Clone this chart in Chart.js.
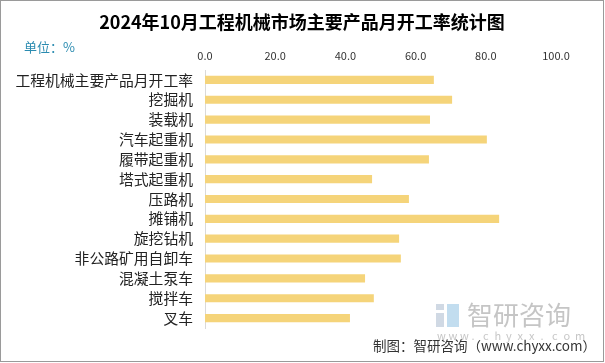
<!DOCTYPE html>
<html>
<head>
<meta charset="utf-8">
<script src="https://cdn.jsdelivr.net/npm/chart.js@4/dist/chart.umd.min.js"></script>
<style>
  body { margin: 0; background: #fff; }
  #wrap { width: 605px; height: 363px; }
</style>
</head>
<body>
<div id="wrap"><canvas id="rateChart" width="605" height="363"></canvas></div>
<script>
let chartTitle = '2024年10月工程机械市场主要产品月开工率统计图';
let unitText = '单位：%';
let sourceText = '制图：智研咨询（www.chyxx.com）';

let categories = ['工程机械主要产品月开工率', '挖掘机', '装载机', '汽车起重机', '履带起重机', '塔式起重机',
  '压路机', '摊铺机', '旋挖钻机', '非公路矿用自卸车', '混凝土泵车', '搅拌车', '叉车'];
let rates = [65.2, 70.4, 64.1, 80.3, 63.8, 47.6, 58.1, 83.8, 55.3, 55.8, 45.6, 48.1, 41.3];
let tickValues = [0, 20, 40, 60, 80, 100];

let fontCn = '"Noto Sans CJK SC", "Noto Sans", sans-serif';

// background, frame, title, unit and footer text
let decorPlugin = {
  id: 'decor',
  beforeDraw(chart) {
    let ctx = chart.ctx;
    ctx.save();
    ctx.fillStyle = '#fff';
    ctx.fillRect(0, 0, chart.width, chart.height);
    ctx.restore();
  },
  afterDraw(chart) {
    let ctx = chart.ctx;
    ctx.save();
    ctx.strokeStyle = '#9a9a9a';
    ctx.lineWidth = 1;
    ctx.strokeRect(0.5, 0.5, chart.width - 2, chart.height - 2);

    ctx.fillStyle = '#000';
    ctx.font = 'bold 18px ' + fontCn;
    ctx.textAlign = 'center';
    ctx.textBaseline = 'middle';
    ctx.fillText(chartTitle, 302, 22);

    ctx.fillStyle = '#2a8bb0';
    ctx.font = '13px ' + fontCn;
    ctx.textAlign = 'left';
    ctx.fillText(unitText, 24, 47);

    // watermark
    ctx.fillStyle = 'rgba(150,170,195,0.45)';
    ctx.fillRect(436, 304, 8, 6);
    ctx.fillRect(436, 313, 8, 14);
    ctx.fillStyle = 'rgba(120,180,220,0.45)';
    ctx.fillRect(447, 304, 12, 23);
    ctx.fillStyle = 'rgba(150,150,150,0.55)';
    ctx.font = '26px ' + fontCn;
    ctx.fillText('智研咨询', 467, 315);
    ctx.font = '11px ' + fontCn;
    ctx.fillStyle = 'rgba(160,160,160,0.6)';
    let wm = 'www.chyxx.com';
    for (let i = 0; i < wm.length; i++) {
      ctx.fillText(wm[i], 437 + i * 11.5, 336);
    }

    ctx.fillStyle = '#333';
    ctx.font = '13.5px ' + fontCn;
    ctx.textAlign = 'right';
    ctx.fillText(sourceText, 596, 346);
    ctx.restore();
  }
};

function createRateChart() {
  let ctx = document.getElementById('rateChart').getContext('2d');
  new Chart(ctx, {
    type: 'bar',
    data: {
      labels: categories,
      datasets: [{
        data: rates,
        backgroundColor: '#f5d47a',
        categoryPercentage: 1,
        barPercentage: 0.41
      }]
    },
    options: {
      indexAxis: 'y',
      responsive: false,
      animation: false,
      layout: { padding: { left: 15, right: 49, top: 48, bottom: 35 } },
      plugins: {
        legend: { display: false },
        tooltip: { enabled: false }
      },
      scales: {
        x: {
          position: 'top',
          min: 0,
          max: 100,
          afterBuildTicks: scale => { scale.ticks = tickValues.map(v => ({ value: v })); },
          afterFit: scale => { scale.height = 22; },
          grid: { display: false, drawTicks: false },
          border: { display: false },
          ticks: {
            padding: 8,
            color: '#333',
            font: { family: fontCn, size: 11 },
            callback: v => v.toFixed(1)
          }
        },
        y: {
          afterFit: scale => { scale.width = 190; },
          grid: { display: false, drawTicks: false },
          border: { display: true, color: '#d9d9d9', width: 1 },
          ticks: {
            autoSkip: false,
            padding: 12,
            color: '#222',
            font: { family: fontCn, size: 14.8 }
          }
        }
      }
    },
    plugins: [decorPlugin]
  });
}

document.addEventListener('DOMContentLoaded', () => {
  createRateChart();
});
</script>
</body>
</html>
